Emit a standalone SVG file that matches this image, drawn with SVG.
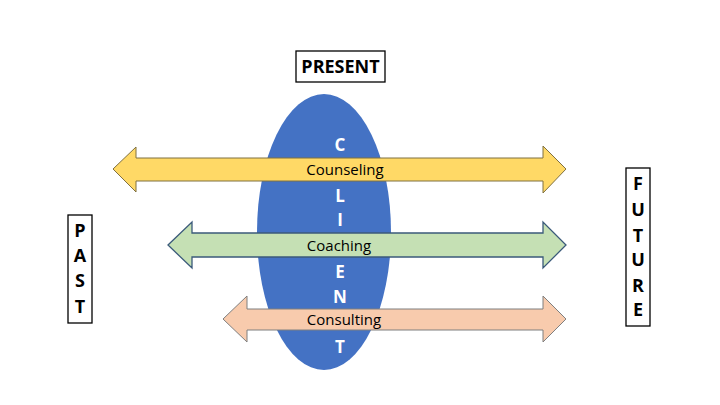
<svg xmlns="http://www.w3.org/2000/svg" width="720" height="405" viewBox="0 0 720 405">
<style>
.lbl{font-family:"Open Sans","Liberation Sans",sans-serif;font-size:15px;fill:#000;text-anchor:middle}
.cl{font-family:"Open Sans","Liberation Sans",sans-serif;font-size:17px;font-weight:bold;fill:#fff;text-anchor:middle}
.bx{fill:#fff;stroke:#000;stroke-width:1.3}
.bt{font-family:"Open Sans","Liberation Sans",sans-serif;font-size:18px;font-weight:bold;fill:#000;text-anchor:middle}
</style>
<rect width="720" height="405" fill="#fff"/>
<g id="client">
<ellipse cx="324" cy="232" rx="67" ry="138" fill="#4472C4"/>
<text class="cl" x="340" y="151">C</text>
<text class="cl" x="340" y="202">L</text>
<text class="cl" x="340" y="226">I</text>
<text class="cl" x="340" y="278">E</text>
<text class="cl" x="340" y="303">N</text>
<text class="cl" x="340" y="353">T</text>
</g>
<g id="connectors">
<g id="counseling">
<polygon points="113,169 136,147 136,158 543,158 543,146 566,169 543,193 543,181 136,181 136,192" fill="#FFD966" stroke="#7F7040" stroke-width="1"/>
<text class="lbl" x="345" y="175">Counseling</text>
</g>
<g id="coaching">
<polygon points="168,245 192,222 192,233 543,233 543,222 566,245 543,268 543,257 192,257 192,268" fill="#C5E0B4" stroke="#3B5A7A" stroke-width="1.3"/>
<text class="lbl" x="339" y="251">Coaching</text>
</g>
<g id="consulting">
<polygon points="223,319 247,296 247,309 543,309 543,296 566,319 543,342 543,330 247,330 247,342" fill="#F8CBAD" stroke="#7F7F7F" stroke-width="1"/>
<text class="lbl" x="344" y="325">Consulting</text>
</g>
</g>
<g id="present">
<rect class="bx" x="296" y="51" width="89" height="31"/>
<text class="bt" x="340.5" y="73">PRESENT</text>
</g>
<g id="past">
<rect class="bx" x="68" y="215" width="24" height="108"/>
<text class="bt" x="80" y="237">P</text>
<text class="bt" x="80" y="262">A</text>
<text class="bt" x="80" y="287">S</text>
<text class="bt" x="80" y="313">T</text>
</g>
<g id="future">
<rect class="bx" x="626" y="168" width="24" height="158"/>
<text class="bt" x="638" y="190">F</text>
<text class="bt" x="638" y="216">U</text>
<text class="bt" x="638" y="242">T</text>
<text class="bt" x="638" y="266">U</text>
<text class="bt" x="638" y="292">R</text>
<text class="bt" x="638" y="316">E</text>
</g>
</svg>
